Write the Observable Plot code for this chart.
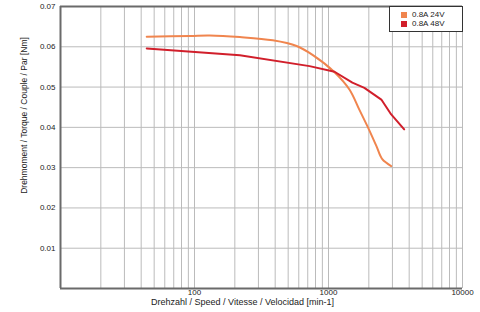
<!DOCTYPE html>
<html>
<head>
<meta charset="utf-8">
<script src="https://cdn.jsdelivr.net/npm/d3@7"></script>
<script src="https://cdn.jsdelivr.net/npm/@observablehq/plot@0.6"></script>
<style>
  html, body { margin: 0; padding: 0; background: #fff; }
  #wrap { position: relative; width: 480px; height: 312px; font-family: "Liberation Sans", Arial, Helvetica, sans-serif; }
  #legend { position: absolute; left: 389px; top: 6px; width: 74px; height: 26px; border: 1px solid #333; background: #fff; box-sizing: border-box; font-size: 8px; color: #222; }
  .row { position: absolute; left: 11px; display: flex; align-items: center; height: 9px; }
  .sw { width: 6px; height: 6px; margin-right: 5px; }
</style>
</head>
<body>
<div id="wrap"></div>
<script>
// Data
const rpm24 = [44, 93, 130, 218, 384, 578, 760, 1109, 1433, 1698, 1950, 2275, 2519, 2937];
const torque24 = [0.0625, 0.0627, 0.0628, 0.0624, 0.0616, 0.0602, 0.0580, 0.0537, 0.0494, 0.0444, 0.0403, 0.0354, 0.0321, 0.0304];
const rpm48 = [44, 218, 722, 1109, 1507, 1853, 2478, 2937, 3672];
const torque48 = [0.0596, 0.0579, 0.0552, 0.0538, 0.0511, 0.0498, 0.0469, 0.0432, 0.0395];
const seriesNames = ["0.8A 24V", "0.8A 48V"];
const seriesColors = ["#f0854e", "#d11f2b"];
const xTicks = [100, 1000, 10000];
const yTicks = [0.01, 0.02, 0.03, 0.04, 0.05, 0.06, 0.07];
const xGrid = [20, 30, 40, 50, 60, 70, 80, 90, 100, 200, 300, 400, 500, 600, 700, 800, 900, 1000, 2000, 3000, 4000, 5000, 6000, 7000, 8000, 9000, 10000];
const yGrid = [0.01, 0.02, 0.03, 0.04, 0.05, 0.06];
const xLabel = "Drehzahl / Speed / Vitesse / Velocidad [min-1]";
const yLabel = "Drehmoment / Torque / Couple / Par [Nm]";

const s24 = rpm24.map((r, i) => ({rpm: r, torque: torque24[i]}));
const s48 = rpm48.map((r, i) => ({rpm: r, torque: torque48[i]}));

const chart = Plot.plot({
  width: 480, height: 312,
  marginLeft: 60, marginRight: 18, marginTop: 6, marginBottom: 24,
  x: {type: "log", domain: [10, 10000]},
  y: {domain: [0, 0.07]},
  style: {fontFamily: "'Liberation Sans', Arial, Helvetica, sans-serif", fontSize: "8px", color: "#222", background: "white"},
  marks: [
    Plot.ruleX(xGrid, {stroke: "#bbb", strokeWidth: 1}),
    Plot.ruleY(yGrid, {stroke: "#bbb", strokeWidth: 1}),
    Plot.line(s24, {x: "rpm", y: "torque", stroke: seriesColors[0], strokeWidth: 2, curve: "catmull-rom"}),
    Plot.line(s48, {x: "rpm", y: "torque", stroke: seriesColors[1], strokeWidth: 2, curve: "linear"}),
    Plot.ruleX([10], {stroke: "#6a6a6a", strokeWidth: 2}),
    Plot.ruleY([0, 0.07], {stroke: "#6a6a6a", strokeWidth: 2}),
    Plot.axisX(xTicks, {tickSize: 0, tickPadding: 1, tickFormat: d => String(d), label: null}),
    Plot.axisY(yTicks, {tickSize: 0, tickPadding: 5, tickFormat: d3.format(".2f"), label: null}),
    Plot.text([xLabel], {frameAnchor: "bottom", lineAnchor: "middle", dy: 14, dx: -19, fill: "#222", fontSize: 9}),
    Plot.text([yLabel], {frameAnchor: "left", textAnchor: "middle", lineAnchor: "middle", dx: -36, dy: -32, rotate: -90, fill: "#222", fontSize: 8.5})
  ]
});

const wrap = document.getElementById("wrap");
wrap.appendChild(chart);
const legend = document.createElement("div");
legend.id = "legend";
seriesNames.forEach((name, i) => {
  const row = document.createElement("div");
  row.className = "row";
  row.style.top = (3 + i * 9) + "px";
  const sw = document.createElement("span");
  sw.className = "sw";
  sw.style.background = seriesColors[i];
  const t = document.createElement("span");
  t.textContent = name;
  row.appendChild(sw);
  row.appendChild(t);
  legend.appendChild(row);
});
wrap.appendChild(legend);
</script>
</body>
</html>
